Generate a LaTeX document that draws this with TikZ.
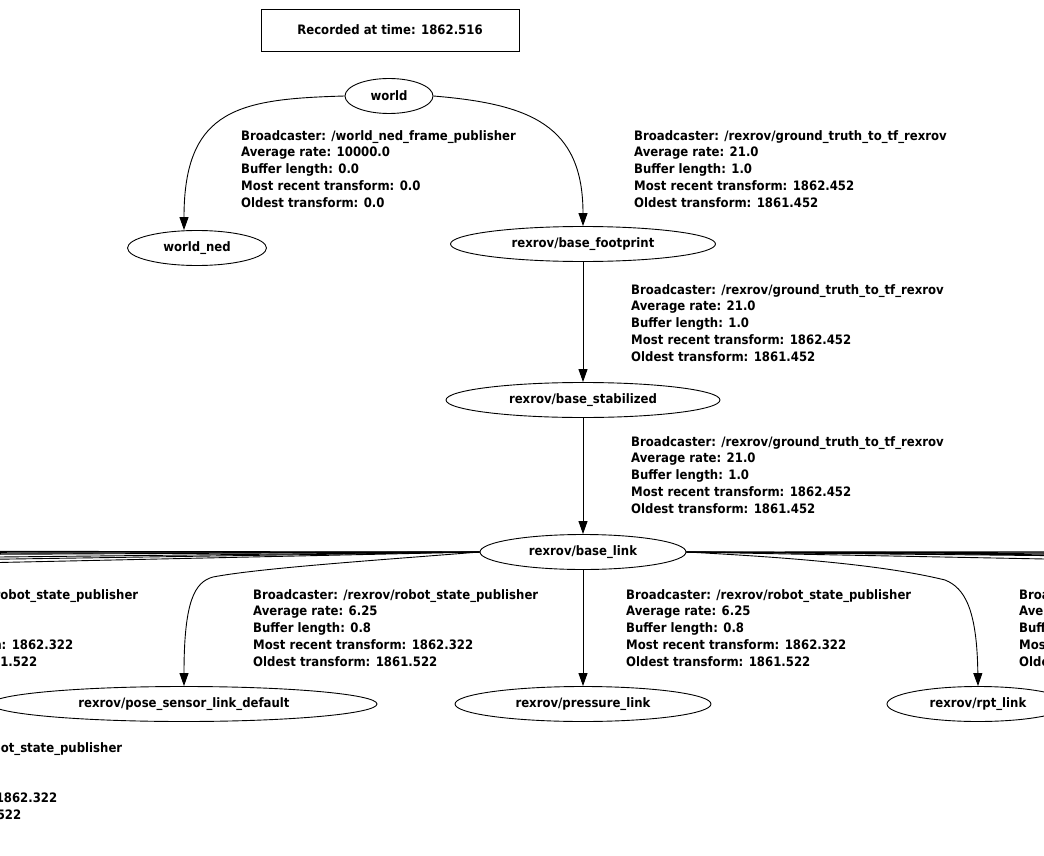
\documentclass[tikz,border=0pt]{standalone}
\usepackage{fontspec}
\setmainfont{DejaVu Sans}[FakeStretch=0.9]
\usetikzlibrary{shapes.geometric,arrows.meta}
\tikzset{
  lbl/.style={font=\bfseries\fontsize{13}{16.8}\selectfont},
  frame/.style={ellipse,draw,line width=0.9pt,inner sep=0pt,minimum height=35pt,lbl},
  info/.style={anchor=north west,inner sep=0pt,align=left,lbl},
  tfedge/.style={line width=0.9pt,-{Triangle[length=13pt,width=9pt]}},
  bund/.style={line width=0.9pt},
}
\newcommand{\rsp}{Broadcaster: /rexrov/robot\_state\_publisher\\Average rate: 6.25\\Buffer length: 0.8\\Most recent transform: 1862.322\\Oldest transform: 1861.522}
\newcommand{\gtt}{Broadcaster: /rexrov/ground\_truth\_to\_tf\_rexrov\\Average rate: 21.0\\Buffer length: 1.0\\Most recent transform: 1862.452\\Oldest transform: 1861.452}
\begin{document}
\begin{tikzpicture}[x=1pt,y=-1pt]
\useasboundingbox (0,0) rectangle (1044,856);
\clip (0,0) rectangle (1044,856);
\fill[white] (0,0) rectangle (1044,856);
% nodes
\node[draw,line width=0.9pt,minimum width=258pt,minimum height=42pt,inner sep=0pt,lbl] (rec) at (390,30) {Recorded at time: 1862.516};
\node[frame,minimum width=88pt] (world) at (389,96) {world};
\node[frame,minimum width=139pt] (ned) at (197,248) {world\_ned};
\node[frame,minimum width=265pt] (fp) at (583,244) {rexrov/base\_footprint};
\node[frame,minimum width=274pt] (st) at (583,400) {rexrov/base\_stabilized};
\node[frame,minimum width=206pt] (bl) at (583,552) {rexrov/base\_link};
\node[frame,minimum width=386pt] (ps) at (184,704) {rexrov/pose\_sensor\_link\_default};
\node[frame,minimum width=256pt] (pr) at (583,704) {rexrov/pressure\_link};
\node[frame,minimum width=182pt] (rpt) at (978,704) {rexrov/rpt\_link};
% free ends of the edges that leave the picture
\coordinate (l1) at (-1,551.3);
\coordinate (l2) at (-1,552.3);
\coordinate (l3) at (-1,553.3);
\coordinate (l4) at (-1,554.3);
\coordinate (l5) at (-1,557);
\coordinate (l6) at (-1,559.2);
\coordinate (l7) at (-1,562.5);
\coordinate (r1) at (1045,551.8);
\coordinate (r2) at (1045,552.8);
\coordinate (r3) at (1045,553.8);
\coordinate (r4) at (1045,554.8);
\coordinate (r5) at (1045,555.6);
\coordinate (r6) at (1045,559);
% edges
\draw[tfedge] (world.west) .. controls (240,99) and (184,108) .. ([xshift=-13pt]ned.north);
\draw[tfedge] (world.east) .. controls (530,104) and (583,125) .. (fp.north);
\draw[tfedge] (fp.south) -- (st.north);
\draw[tfedge] (st.south) -- (bl.north);
\draw[tfedge] (bl.south) -- (pr.north);
\draw[tfedge] (bl.west) .. controls (380,560) and (260,568) .. (213,577) .. controls (195,582) and (184,600) .. (ps.north);
\draw[tfedge] (bl.east) .. controls (780,557) and (880,564) .. (945,580) .. controls (965,588) and (977,610) .. (rpt.north);
\foreach \c in {l1,l2,l3,l4,l5,l6,l7} \draw[bund] (bl.west) -- (\c);
\foreach \c in {r1,r2,r3,r4,r5,r6} \draw[bund] (bl.east) -- (\c);
% edge labels
\node[info] (i1) at (241,130.1) {Broadcaster: /world\_ned\_frame\_publisher\\Average rate: 10000.0\\Buffer length: 0.0\\Most recent transform: 0.0\\Oldest transform: 0.0};
\node[info] (i2) at (634,130.1) {\gtt};
\node[info] (i3) at (631,284.1) {\gtt};
\node[info] (i4) at (631,436.1) {\gtt};
\node[info] (i5) at (253,589.1) {\rsp};
\node[info] (i6) at (626,589.1) {\rsp};
\node[info] (i7) at (1019,589.1) {\rsp};
\node[info] (i8) at (-147,589.1) {\rsp};
\node[info] (i9) at (-163,742.1) {\rsp};
\end{tikzpicture}
\end{document}
